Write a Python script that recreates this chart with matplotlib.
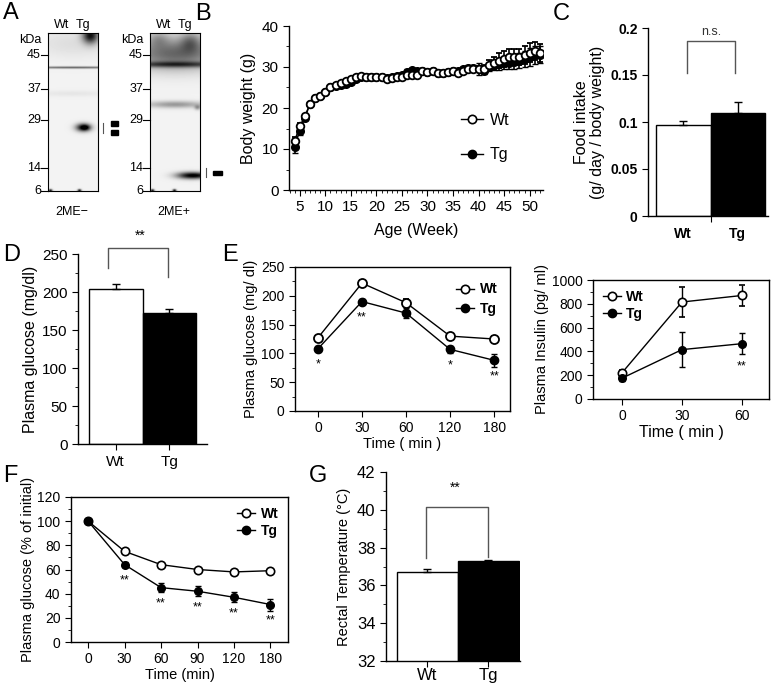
import numpy as np
import matplotlib
matplotlib.use('Agg')
import matplotlib.pyplot as plt
from matplotlib.lines import Line2D
from matplotlib.ticker import MultipleLocator, FixedLocator

plt.rcParams['font.family'] = ['Liberation Sans', 'DejaVu Sans']
plt.rcParams['axes.linewidth'] = 1.0
plt.rcParams['xtick.direction'] = 'out'
plt.rcParams['ytick.direction'] = 'out'

W, H = 773, 684

# ---- data ----
kda_marks = [45, 37, 29, 14, 6]
kda_y = [55, 89, 120, 168, 191]

weeks = list(range(4, 53))
bw_wt = [12, 15.5, 18, 21, 22.5, 23, 24, 25, 25.5, 26, 26.5, 27, 27.5, 27.8, 27.5, 27.5, 27.5,
         27.5, 27, 27.2, 27.5, 27.5, 28, 28, 28, 29, 28.8, 29, 28.5, 28.5, 28.8, 29, 28.5, 29,
         29.5, 29.5, 29.5, 29.5, 30.5, 31, 31.5, 32, 32.5, 32.5, 32.5, 33, 33.5, 34, 33.5]
bw_tg = [10.5, 14.5, 17.5, 21, 22.5, 23, 24, 25, 25.3, 25.5, 25.8, 26.3, 27, 27.5, 27.5, 27.5, 27.5,
         27.5, 27.2, 27.5, 27.8, 28, 28.8, 29.2, 29, 29, 28.8, 29, 28.5, 28.5, 28.8, 29, 29, 29.5,
         29.8, 29.8, 29.5, 29, 30, 30.5, 30.8, 31, 31, 31.2, 31.5, 32, 32.5, 33, 33]
bw_wt_err = [1.0, 0.8, 0.5, 0.5, 0.5, 0.5, 0.5, 0.5, 0.5, 0.5, 0.5, 0.5, 0.5, 0.5, 0.5, 0.5, 0.5,
             0.5, 0.5, 0.5, 0.5, 0.5, 0.5, 0.5, 0.5, 0.5, 0.5, 0.5, 0.5, 0.5, 0.5, 0.5, 0.5, 0.5,
             0.6, 0.7, 0.8, 1.0, 1.2, 1.5, 1.8, 2.0, 2.0, 2.0, 2.0, 2.2, 2.3, 2.2, 2.2]
bw_tg_err = [1.5, 1.0, 0.5, 0.5, 0.5, 0.5, 0.5, 0.5, 0.5, 0.5, 0.5, 0.5, 0.5, 0.5, 0.5, 0.5, 0.5,
             0.5, 0.5, 0.5, 0.5, 0.5, 0.6, 0.6, 0.6, 0.5, 0.5, 0.5, 0.5, 0.5, 0.5, 0.5, 0.5, 0.5,
             0.6, 0.7, 1.5, 0.8, 1.0, 1.3, 1.5, 1.5, 1.6, 1.8, 1.8, 2.0, 2.2, 2.2, 2.0]

food_groups = ['Wt', 'Tg']
food_mean = [0.097, 0.110]
food_err = [0.004, 0.011]

gluc_mean = [204, 173]
gluc_err = [7, 4]

ogtt_times = ['0', '30', '60', '120', '180']
ogtt_wt = [127, 222, 188, 130, 125]
ogtt_wt_err = [4, 5, 6, 4, 5]
ogtt_tg = [108, 190, 170, 107, 88]
ogtt_tg_err = [4, 5, 8, 6, 11]
ogtt_sig = ['*', '**', '', '*', '**']

ins_times = [0, 30, 60]
ins_wt = [220, 815, 870]
ins_wt_err = [25, 125, 90]
ins_tg = [175, 415, 465]
ins_tg_err = [20, 145, 90]

itt_times = ['0', '30', '60', '90', '120', '180']
itt_wt = [100, 75, 64, 60, 58, 59]
itt_wt_err = [1, 1.5, 1.5, 1.5, 1.5, 1.5]
itt_tg = [100, 64, 45, 42, 37, 31]
itt_tg_err = [1, 2, 4, 4, 4, 5]
itt_sig = ['', '**', '**', '**', '**', '**']

temp_mean = [36.7, 37.3]
temp_err = [0.15, 0.05]


fig = plt.figure(figsize=(W / 100, H / 100), dpi=100)


def ax_px(l, t, r, b):
    return fig.add_axes([l / W, 1 - b / H, (r - l) / W, (b - t) / H])


def ftext(x, y, s, **kw):
    fig.text(x / W, 1 - y / H, s, **kw)


def bracket(x1, x2, ytop, y1, y2, color='#555555'):
    xs = [x1 / W, x1 / W, x2 / W, x2 / W]
    ys = [1 - y1 / H, 1 - ytop / H, 1 - ytop / H, 1 - y2 / H]
    fig.add_artist(plt.Line2D(xs, ys, color=color, lw=1.0))


def open_spines(ax):
    ax.spines['top'].set_visible(False)
    ax.spines['right'].set_visible(False)


def handles(ms):
    return [Line2D([], [], color='black', marker='o', ms=ms, mfc='white', mec='black', mew=1.2, lw=1),
            Line2D([], [], color='black', marker='o', ms=ms, mfc='black', mec='black', lw=1)]


# ---- panel A: blots ----
def blot(nx, ny, parts):
    yy, xx = np.mgrid[0:ny, 0:nx].astype(float)
    img = np.full((ny, nx), 0.95)
    for cx, cy, sx, sy, d in parts:
        img -= d * np.exp(-((xx - cx) / sx) ** 2 - ((yy - cy) / sy) ** 2)
    return np.clip(img, 0, 1)


blot1 = blot(50, 158, [(42, 2, 8, 8, 0.85), (25, 34, 60, 1.2, 0.5), (25, 10, 40, 14, 0.08),
                       (35, 94, 7.5, 4, 0.95), (37, 94, 4, 2.5, 0.3), (2, 157, 2, 1.5, 0.8), (31, 157, 2, 1.5, 0.8),
                       (24, 60, 40, 3, 0.05)])
blot2 = blot(50, 158, [(25, 20, 50, 16, 0.55), (25, 31, 60, 3, 0.5), (8, 5, 10, 8, 0.2), (40, 8, 10, 10, 0.3),
                       (25, 71, 30, 3.5, 0.35), (47, 74, 3, 2.5, 0.3), (40, 142, 14, 3.5, 0.9),
                       (52, 142, 10, 3.0, 0.3), (2, 157, 2, 1.5, 0.8), (24, 157, 2, 1.5, 0.8)])

for img, x0, lab in [(blot1, 48, '2ME\u2212'), (blot2, 150, '2ME+')]:
    ax = ax_px(x0, 33, x0 + 50, 191)
    ax.imshow(img, cmap='gray', vmin=0, vmax=1, aspect='auto', interpolation='bilinear')
    ax.set_xticks([])
    ax.set_yticks([])
    for s in ax.spines.values():
        s.set_linewidth(0.8)
    for m, y in zip(kda_marks, kda_y):
        fig.add_artist(plt.Line2D([(x0 - 7) / W, x0 / W], [1 - y / H, 1 - y / H], color='black', lw=0.8))
        ftext(x0 - 7, y, str(m), fontsize=9, ha='right', va='center')
    ftext(x0 - 6, 40, 'kDa', fontsize=9, ha='right', va='center')
    ftext(x0 + 14, 25, 'Wt', fontsize=9, ha='center', va='center')
    ftext(x0 + 35, 25, 'Tg', fontsize=9, ha='center', va='center')
    ftext(x0 + 24, 212, lab, fontsize=9, ha='center', va='center')

fig.add_artist(plt.Line2D([103 / W, 103 / W], [1 - 123 / H, 1 - 133 / H], color='#555555', lw=0.8))
fig.add_artist(plt.Rectangle((111 / W, 1 - 126 / H), 7 / W, 5 / H, color='black'))
fig.add_artist(plt.Rectangle((111 / W, 1 - 135 / H), 7 / W, 5 / H, color='black'))
fig.add_artist(plt.Line2D([206 / W, 206 / W], [1 - 168 / H, 1 - 177 / H], color='#555555', lw=0.8))
fig.add_artist(plt.Rectangle((213 / W, 1 - 175 / H), 9 / W, 4 / H, color='black'))
ftext(3, 13, 'A', fontsize=17, va='center')

# ---- panel B: body weight ----
ax = ax_px(289, 26, 543, 190)
ax.errorbar(weeks, bw_tg, yerr=bw_tg_err, fmt='-o', color='black', mfc='black', mec='black',
            ms=5.5, lw=1, capsize=2.5, elinewidth=1.2)
ax.errorbar(weeks, bw_wt, yerr=bw_wt_err, fmt='-o', color='black', mfc='white', mec='black',
            ms=5.5, mew=1.3, lw=1, capsize=2.5, elinewidth=1.2)
ax.set_xlim(2.9, 52.6)
ax.set_ylim(0, 40)
ax.xaxis.set_major_locator(FixedLocator(range(5, 51, 5)))
ax.xaxis.set_minor_locator(FixedLocator(range(3, 53)))
ax.yaxis.set_major_locator(MultipleLocator(10))
ax.yaxis.set_minor_locator(MultipleLocator(5))
ax.tick_params(labelsize=11, length=4)
ax.tick_params(which='minor', length=2.5)
open_spines(ax)
ax.set_ylabel('Body weight (g)', fontsize=11.5, labelpad=4)
ax.set_xlabel('Age (Week)', fontsize=11.5, labelpad=6)
ax.legend(handles(6), ['Wt', 'Tg'], loc='center left', bbox_to_anchor=(0.62, 0.32), frameon=False,
          fontsize=11.5, handlelength=1.4, handletextpad=0.4, labelspacing=1.2)
ftext(195, 14, 'B', fontsize=17, va='center')

# ---- panel C: food intake ----
ax = ax_px(648, 28, 768, 216)
ax.bar([0, 1], food_mean, width=1.0, color=['white', 'black'], edgecolor='black', lw=1)
ax.errorbar([0, 1], food_mean, yerr=[[0, 0], food_err], fmt='none', ecolor='black', capsize=3, lw=1)
ax.set_xlim(-0.65, 1.55)
ax.set_ylim(0, 0.2)
ax.set_yticks([0, 0.05, 0.1, 0.15, 0.2])
ax.set_yticklabels(['0', '0.05', '0.1', '0.15', '0.2'], fontweight='bold')
ax.set_xticks([0.5])
ax.set_xticklabels([''])
ax.tick_params(labelsize=10, length=4)
open_spines(ax)
ax.set_ylabel('Food intake\n(g/ day / body weight)', fontsize=11.5, labelpad=4, linespacing=1.1)
ftext(683, 234, 'Wt', fontsize=10, fontweight='bold', ha='center', va='center')
ftext(737, 234, 'Tg', fontsize=10, fontweight='bold', ha='center', va='center')
bracket(687, 735, 41, 73, 73)
ftext(711, 32, 'n.s.', fontsize=9, ha='center', va='center', color='#333333')
ftext(553, 14, 'C', fontsize=17, va='center')

# ---- panel D: plasma glucose ----
ax = ax_px(78, 254, 207, 444)
ax.bar([0, 1], gluc_mean, width=1.0, color=['white', 'black'], edgecolor='black', lw=1)
ax.errorbar([0, 1], gluc_mean, yerr=[[0, 0], gluc_err], fmt='none', ecolor='black', capsize=3, lw=1)
ax.set_xlim(-0.7, 1.7)
ax.set_ylim(0, 250)
ax.yaxis.set_major_locator(MultipleLocator(50))
ax.yaxis.set_minor_locator(MultipleLocator(25))
ax.set_xticks([0, 1])
ax.set_xticklabels(['Wt', 'Tg'])
ax.tick_params(axis='x', length=0, pad=4)
ax.tick_params(labelsize=11, length=4)
ax.tick_params(which='minor', length=2.5)
open_spines(ax)
ax.set_ylabel('Plasma glucose (mg/dl)', fontsize=11.5, labelpad=3)
bracket(108, 168, 248, 268, 277)
ftext(140, 236, '**', fontsize=10, ha='center', va='center')
ftext(3, 255, 'D', fontsize=17, va='center')

# ---- panel E: OGTT glucose ----
ax = ax_px(295, 267, 510, 411)
xs = np.arange(len(ogtt_times))
ax.errorbar(xs, ogtt_wt, yerr=ogtt_wt_err, fmt='-o', color='black', mfc='white', mec='black',
            ms=6.5, mew=1.3, lw=1, capsize=2, zorder=3)
ax.errorbar(xs, ogtt_tg, yerr=ogtt_tg_err, fmt='-o', color='black', mfc='black', mec='black',
            ms=6, lw=1, capsize=2, zorder=3)
for x, y, s in zip(xs, ogtt_tg, ogtt_sig):
    ax.text(x, y - 28, s, fontsize=9, ha='center', va='center')
ax.set_xlim(-0.52, 4.36)
ax.set_ylim(0, 250)
ax.set_xticks(xs)
ax.set_xticklabels(ogtt_times)
ax.yaxis.set_major_locator(MultipleLocator(50))
ax.yaxis.set_minor_locator(MultipleLocator(25))
ax.tick_params(labelsize=10, length=4)
ax.tick_params(which='minor', length=2.5)
ax.set_ylabel('Plasma glucose (mg/ dl)', fontsize=10.5, labelpad=2)
ax.set_xlabel('Time ( min )', fontsize=10.5, labelpad=1)
ax.legend(handles(6), ['Wt', 'Tg'], loc='upper right', bbox_to_anchor=(1.0, 0.98), frameon=False,
          prop={'weight': 'bold', 'size': 10}, handlelength=1.3, handletextpad=0.4, labelspacing=0.4)
ftext(222, 255, 'E', fontsize=17, va='center')

# ---- panel E: insulin ----
ax = ax_px(593, 280, 769, 399)
ax.errorbar(ins_times, ins_wt, yerr=ins_wt_err, fmt='-o', color='black', mfc='white', mec='black',
            ms=6, mew=1.2, lw=1, capsize=2, zorder=3)
ax.errorbar(ins_times, ins_tg, yerr=ins_tg_err, fmt='-o', color='black', mfc='black', mec='black',
            ms=5.5, lw=1, capsize=2, zorder=3)
ax.text(60, 270, '**', fontsize=9, ha='center', va='center')
ax.set_xlim(-14.5, 73.5)
ax.set_ylim(0, 1000)
ax.set_xticks(ins_times)
ax.yaxis.set_major_locator(MultipleLocator(200))
ax.yaxis.set_minor_locator(MultipleLocator(100))
ax.tick_params(labelsize=10, length=4)
ax.tick_params(which='minor', length=2.5)
ax.set_ylabel('Plasma Insulin (pg/ ml)', fontsize=10.5, labelpad=2)
ax.set_xlabel('Time ( min )', fontsize=11.5, labelpad=1)
ax.legend(handles(6), ['Wt', 'Tg'], loc='upper left', frameon=False, prop={'weight': 'bold', 'size': 10},
          handlelength=1.3, handletextpad=0.4, labelspacing=0.2, borderaxespad=0.3)

# ---- panel F: ITT ----
ax = ax_px(71, 497, 288, 642)
xs = np.arange(len(itt_times))
ax.errorbar(xs, itt_wt, yerr=itt_wt_err, fmt='-o', color='black', mfc='white', mec='black',
            ms=6, mew=1.2, lw=1, capsize=2, zorder=3)
ax.errorbar(xs, itt_tg, yerr=itt_tg_err, fmt='-o', color='black', mfc='black', mec='black',
            ms=5.5, lw=1, capsize=2, zorder=3)
for x, y, s in zip(xs, itt_tg, itt_sig):
    ax.text(x, y - 13, s, fontsize=9, ha='center', va='center')
ax.set_xlim(-0.47, 5.48)
ax.set_ylim(0, 120)
ax.set_xticks(xs)
ax.set_xticklabels(itt_times)
ax.yaxis.set_major_locator(MultipleLocator(20))
ax.yaxis.set_minor_locator(MultipleLocator(10))
ax.tick_params(labelsize=10, length=4)
ax.tick_params(which='minor', length=2.5)
ax.set_ylabel('Plasma glucose (% of initial)', fontsize=10.5, labelpad=2)
ax.set_xlabel('Time (min)', fontsize=10.5, labelpad=1)
ax.legend(handles(6), ['Wt', 'Tg'], loc='upper right', frameon=False, prop={'weight': 'bold', 'size': 10},
          handlelength=1.3, handletextpad=0.4, labelspacing=0.2, borderaxespad=0.3)
ftext(3, 476, 'F', fontsize=17, va='center')

# ---- panel G: rectal temperature ----
ax = ax_px(386, 472, 520, 661)
ax.bar([0, 1], temp_mean, width=1.0, color=['white', 'black'], edgecolor='black', lw=1, bottom=0)
ax.errorbar([0, 1], temp_mean, yerr=[[0, 0], temp_err], fmt='none', ecolor='black', capsize=3, lw=1)
ax.set_xlim(-0.68, 1.52)
ax.set_ylim(32, 42)
ax.yaxis.set_major_locator(MultipleLocator(2))
ax.yaxis.set_minor_locator(MultipleLocator(1))
ax.set_xticks([0, 1])
ax.set_xticklabels(['Wt', 'Tg'])
ax.tick_params(axis='x', length=0, pad=1)
ax.tick_params(labelsize=12, length=4)
ax.tick_params(which='minor', length=2.5)
open_spines(ax)
ax.set_ylabel('Rectal Temperature (\u00b0C)', fontsize=10.5, labelpad=4)
bracket(426, 488, 507, 558, 557)
ftext(455, 488, '**', fontsize=10, ha='center', va='center')
ftext(309, 476, 'G', fontsize=17, va='center')

fig.savefig('out.png', dpi=100)
